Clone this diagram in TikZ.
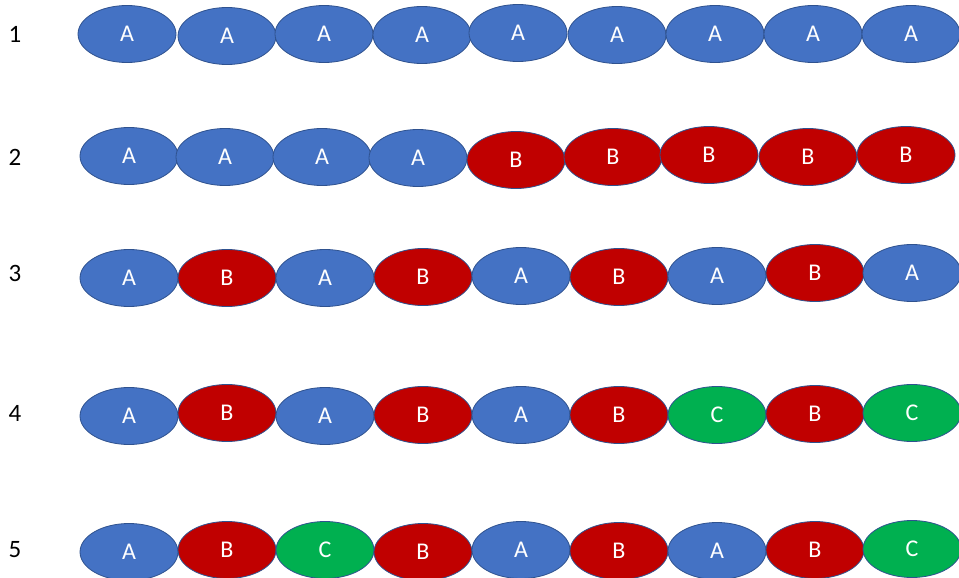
\documentclass[tikz,border=0pt]{standalone}
\usepackage{fontspec}
\setmainfont{Carlito}
\usetikzlibrary{shapes.geometric}

\definecolor{beadblue}{HTML}{4472C4}
\definecolor{beadred}{HTML}{C00000}
\definecolor{beadgreen}{HTML}{00B050}
\definecolor{beadline}{HTML}{2F528F}

\tikzset{
  bead/.style={ellipse, draw=beadline, line width=0.8pt, minimum width=98pt,
    minimum height=57pt, inner sep=0pt, text=white, font=\fontsize{24}{28}\selectfont},
  beadA/.style={bead, fill=beadblue},
  beadB/.style={bead, fill=beadred},
  beadC/.style={bead, fill=beadgreen},
  rowlabel/.style={font=\fontsize{25}{30}\selectfont}
}

\begin{document}
\begin{tikzpicture}[x=1pt, y=-1pt]
  \useasboundingbox (0,0) rectangle (959,578);

  % row numbers
  \node[rowlabel] (n1) at (15,34) {1};
  \node[rowlabel] (n2) at (15,157) {2};
  \node[rowlabel] (n3) at (15,273) {3};
  \node[rowlabel] (n4) at (15,413) {4};
  \node[rowlabel] (n5) at (15,550) {5};

  % row 1
  \foreach \x/\y/\l [count=\i] in {127/34/A, 227/36/A, 324/34/A, 422/35/A, 518/33/A,
      617/35/A, 715/34/A, 813/34/A, 911/34/A}
    \node[bead\l] (ra\i) at (\x,\y) {\l};

  % row 2
  \foreach \x/\y/\l [count=\i] in {129/156/A, 225/157/A, 322/157/A, 418/158/A, 516/160/B,
      613/157/B, 709/155/B, 808/157/B, 906/155/B}
    \node[bead\l] (rb\i) at (\x,\y) {\l};

  % row 3
  \foreach \x/\y/\l [count=\i] in {129/278/A, 227/278/B, 325/278/A, 423/277/B, 521/276/A,
      619/277/B, 717/276/A, 815/273/B, 912/273/A}
    \node[bead\l] (rc\i) at (\x,\y) {\l};

  % row 4
  \foreach \x/\y/\l [count=\i] in {129/416/A, 227/413/B, 325/416/A, 423/415/B, 521/415/A,
      619/415/B, 717/415/C, 815/414/B, 912/413/C}
    \node[bead\l] (rd\i) at (\x,\y) {\l};

  % row 5
  \foreach \x/\y/\l [count=\i] in {129/552/A, 227/550/B, 325/550/C, 423/552/B, 521/550/A,
      619/551/B, 717/551/A, 815/550/B, 912/549/C}
    \node[bead\l] (re\i) at (\x,\y) {\l};
\end{tikzpicture}
\end{document}
